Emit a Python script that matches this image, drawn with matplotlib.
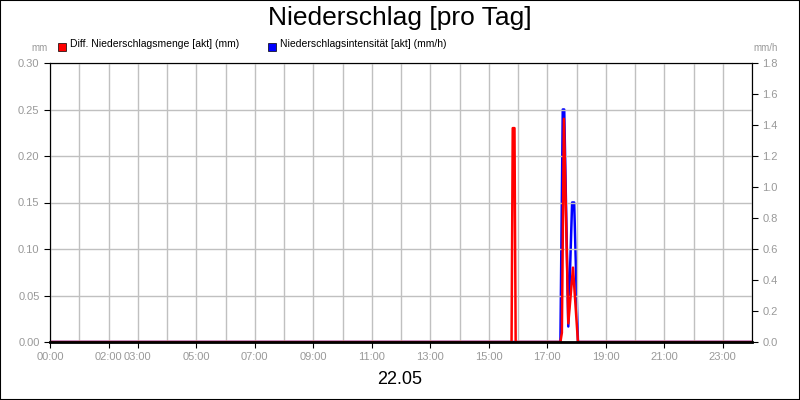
import matplotlib
matplotlib.use("Agg")
import matplotlib.pyplot as plt
plt.rcParams['font.family'] = ['Liberation Sans', 'DejaVu Sans']

red_t = [0, 15.78, 15.82, 15.88, 15.92, 17.45, 17.5, 17.57, 17.72, 17.88, 18.05, 24]
red_v = [0, 0, 0.23, 0.23, 0, 0, 0.01, 0.24, 0.02, 0.08, 0, 0]
blue_t = [0, 17.45, 17.53, 17.58, 17.72, 17.85, 17.92, 18.05, 24]
blue_v = [0, 0, 1.5, 1.5, 0.1, 0.9, 0.9, 0, 0]
xticks = [0, 2, 3, 5, 7, 9, 11, 13, 15, 17, 19, 21, 23]
xlabels = ["00:00", "02:00", "03:00", "05:00", "07:00", "09:00", "11:00", "13:00", "15:00", "17:00", "19:00", "21:00", "23:00"]

fig = plt.figure(figsize=(8, 4), dpi=100)
fig.patches.append(plt.Rectangle((0, 0), 1, 1, transform=fig.transFigure, fill=False, ec="black", lw=1.5))
ax = fig.add_axes([50/800, 58/400, 702/800, 279/400])
ax2 = ax.twinx()
ax.set_xlim(0, 24)
ax.set_ylim(0, 0.3)
ax2.set_ylim(0, 1.8)
ax.grid(True, color="#c0c0c0", lw=1)
ax.set_xticks(xticks)
ax.set_xticklabels(xlabels)
ax.set_xticks(range(25), minor=True)
ax.grid(True, which="minor", axis="x", color="#c0c0c0", lw=1)
ax.set_yticks([i * 0.05 for i in range(7)])
ax.set_yticklabels([f"{i*0.05:.2f}" for i in range(7)])
ax2.set_yticks([i * 0.2 for i in range(10)])
ax2.set_yticklabels([f"{i*0.2:.1f}" for i in range(10)])
for a in (ax, ax2):
    a.tick_params(labelsize=8, labelcolor="#999999", length=4, color="black")
ax.tick_params(which="minor", length=0)
ax2.plot(blue_t, blue_v, color="#0000ff", lw=1.8)
ax.plot(red_t, red_v, color="#ff0000", lw=1.8, zorder=2)
ax.axhline(0, color="black", lw=2, zorder=6, clip_on=False)
ax.set_zorder(ax2.get_zorder() + 1)
ax.patch.set_visible(False)
fig.text(0.5, 0.955, "Niederschlag [pro Tag]", ha="center", va="center", fontsize=19)
fig.text(0.5, 0.05, "22.05", ha="center", va="center", fontsize=13)
fig.text(40/800, 0.88, "mm", ha="center", va="center", fontsize=7, color="#999999")
fig.text(766/800, 0.88, "mm/h", ha="center", va="center", fontsize=7, color="#999999")
fig.patches.append(plt.Rectangle((58/800, 0.872), 8/800, 16/800, transform=fig.transFigure, fc="#ff0000", ec="black", lw=0.5))
fig.text(70/800, 0.89, "Diff. Niederschlagsmenge [akt] (mm)", va="center", fontsize=7.5)
fig.patches.append(plt.Rectangle((268/800, 0.872), 8/800, 16/800, transform=fig.transFigure, fc="#0000ff", ec="black", lw=0.5))
fig.text(280/800, 0.89, "Niederschlagsintensität [akt] (mm/h)", va="center", fontsize=7.5)
fig.savefig("out.png", dpi=100)
